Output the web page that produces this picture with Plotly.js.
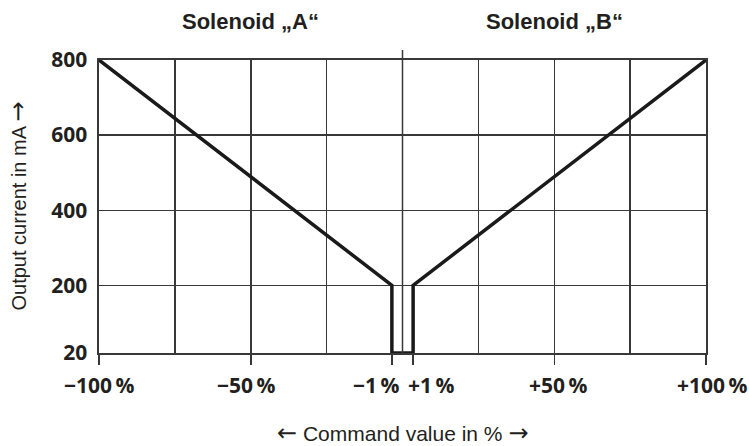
<!DOCTYPE html>
<html>
<head>
<meta charset="utf-8">
<script src="https://cdn.plot.ly/plotly-3.0.1.min.js"></script>
<style>html,body{margin:0;padding:0;background:#fff}#chart{width:749px;height:446px}</style>
</head>
<body>
<div id="chart"></div>
<script>
// Characteristic curve: command value (%) vs output current (mA)
const commandValue = [-100, -3.5, -3.5, 3.5, 3.5, 100];
const outputCurrent = [800, 200, 20, 20, 200, 800];

const yTickVals = [20, 200, 400, 600, 800];
const yTickText = ['20', '200', '400', '600', '800'];

const xTickVals = [-100, -50, -3.5, 3.5, 50, 100];
const xTickText = ['\u2212100\u2009%', '\u221250\u2009%', '\u22121\u2009%', '+1\u2009%', '+50\u2009%', '+100\u2009%'];
const xGridVals = [-75, -50, -25, 25, 50, 75];

const solenoidNames = ['Solenoid \u201EA\u201C', 'Solenoid \u201EB\u201C'];
const solenoidPos = [-50, 50];

const arrowL = '<span style="font-family:DejaVu Sans;font-size:24px">\u2190</span>';
const arrowR = '<span style="font-family:DejaVu Sans;font-size:24px">\u2192</span>';
const xTitle = arrowL + ' Command value in % ' + arrowR;
const yTitle = 'Output current in mA ' + arrowR;

const ink = '#231f20';
const gridColor = '#383838';
const tickFont = {family: 'Open Sans', size: 21, color: ink, weight: 700};
const titleFont = {family: 'Liberation Sans', size: 20, color: ink};

// per-label placement (style only)
const xLabelAnchor = ['center', 'center', 'right', 'left', 'center', 'center'];
const xLabelShift = [0, -4, 10, -7, 4, 6];

const annotations = [];
xTickVals.forEach((v, i) => {
  annotations.push({
    x: v, xref: 'x', y: 0, yref: 'paper', yanchor: 'middle', yshift: -32,
    xanchor: xLabelAnchor[i], xshift: xLabelShift[i],
    text: '<b>' + xTickText[i] + '</b>', showarrow: false, font: tickFont
  });
});
solenoidNames.forEach((t, i) => {
  annotations.push({
    x: solenoidPos[i], xref: 'x', y: 1, yref: 'paper', yanchor: 'middle', yshift: 39,
    text: '<b>' + t + '</b>', showarrow: false,
    font: {family: 'Liberation Sans', size: 22, color: ink}
  });
});
annotations.push({
  x: 0.5, xref: 'paper', y: 0, yref: 'paper', yanchor: 'middle', yshift: -80,
  text: xTitle, showarrow: false, font: {family: 'Liberation Sans', size: 21, color: ink}
});
annotations.push({
  x: 0, xref: 'paper', xanchor: 'center', xshift: -82, y: 0.5, yref: 'paper', yanchor: 'middle',
  text: yTitle, textangle: -90, showarrow: false, font: titleFont
});

const trace = {
  x: commandValue, y: outputCurrent, type: 'scatter', mode: 'lines',
  line: {color: '#1a1a1a', width: 3.5}, cliponaxis: false, hoverinfo: 'skip'
};
// empty helper trace so the grid axis is drawn
const gridTrace = {x: [], y: [], xaxis: 'x2', yaxis: 'y', type: 'scatter', mode: 'lines', hoverinfo: 'skip'};

const layout = {
  width: 749, height: 446,
  margin: {l: 99, r: 43, t: 60, b: 93, pad: 0},
  paper_bgcolor: '#fff', plot_bgcolor: '#fff',
  showlegend: false,
  xaxis: {
    range: [-100, 100], fixedrange: true,
    tickmode: 'array', tickvals: xTickVals, ticktext: xTickVals.map(() => ''),
    ticks: 'outside', ticklen: 10, tickwidth: 1.5, tickcolor: gridColor,
    showgrid: false, zeroline: false,
    showline: true, mirror: true, linecolor: gridColor, linewidth: 1.6
  },
  xaxis2: {
    overlaying: 'x', side: 'bottom', range: [-100, 100], fixedrange: true,
    tickmode: 'array', tickvals: xGridVals, showticklabels: false, ticks: '',
    showgrid: true, gridcolor: gridColor, gridwidth: 1.5, zeroline: false, showline: false
  },
  yaxis: {
    range: [20, 800], fixedrange: true,
    tickmode: 'array', tickvals: yTickVals, ticktext: yTickText.map(t => '<b>' + t + '</b>'),
    ticks: '', ticklabelstandoff: 6,
    tickfont: tickFont,
    showgrid: true, gridcolor: gridColor, gridwidth: 1.5, zeroline: false,
    showline: true, mirror: true, linecolor: gridColor, linewidth: 1.6
  },
  shapes: [{
    type: 'line', xref: 'x', yref: 'paper', x0: 0, x1: 0, y0: 0, y1: 1 + 10 / 293,
    line: {color: gridColor, width: 1.5}
  }],
  annotations: annotations
};

Plotly.newPlot('chart', [gridTrace, trace], layout, {displayModeBar: false, staticPlot: true});
</script>
</body>
</html>
